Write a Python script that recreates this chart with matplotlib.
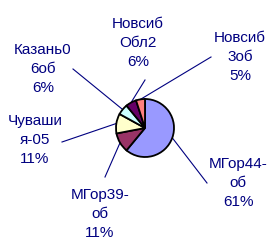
import numpy as np
import matplotlib
matplotlib.use("agg")
from matplotlib import pyplot as plt

W, H = 267, 244

labels = ["МГор44-\nоб", "МГор39-\nоб", "Чуваши\nя-05", "Казань0\n6об", "Новсиб\nОбл2", "Новсиб\n3об"]
shares = [61, 11, 11, 6, 6, 5]
colors = ["#9999FF", "#993366", "#FFFFCC", "#CCFFFF", "#660066", "#FF8080"]

# label centres and leader line ends, in pixels from top-left
text_pos = [(238, 183), (100, 214), (35, 140), (43, 69), (138, 43), (240, 57)]
line_end = [(207, 183), (105, 177), (62, 142), (73, 69), (145, 80), (211, 57)]

center = (145, H - 128)
radius = 29
navy = "#000080"

plt.rcParams["font.family"] = ["Liberation Sans", "DejaVu Sans"]
fig = plt.figure(figsize=(W / 100, H / 100), dpi=100)
ax = fig.add_axes([0, 0, 1, 1])

wedges, _ = ax.pie(shares, colors=colors, startangle=90, counterclock=False,
                   center=center, radius=radius,
                   wedgeprops=dict(edgecolor="black", linewidth=1.3))
ax.set_xlim(0, W)
ax.set_ylim(0, H)
ax.set_aspect("equal")
ax.axis("off")

total = sum(shares)
for w, lab, val, tp, le in zip(wedges, labels, shares, text_pos, line_end):
    mid = np.deg2rad((w.theta1 + w.theta2) / 2)
    x = center[0] + radius * np.cos(mid)
    y = center[1] + radius * np.sin(mid)
    ax.plot([x, le[0]], [y, H - le[1]], color=navy, linewidth=0.8, zorder=0)
    ax.text(tp[0], H - tp[1], f"{lab}\n{round(val / total * 100)}%", ha="center", va="center",
            color=navy, fontsize=11, linespacing=1.42)

fig.savefig("out.png", dpi=100)
